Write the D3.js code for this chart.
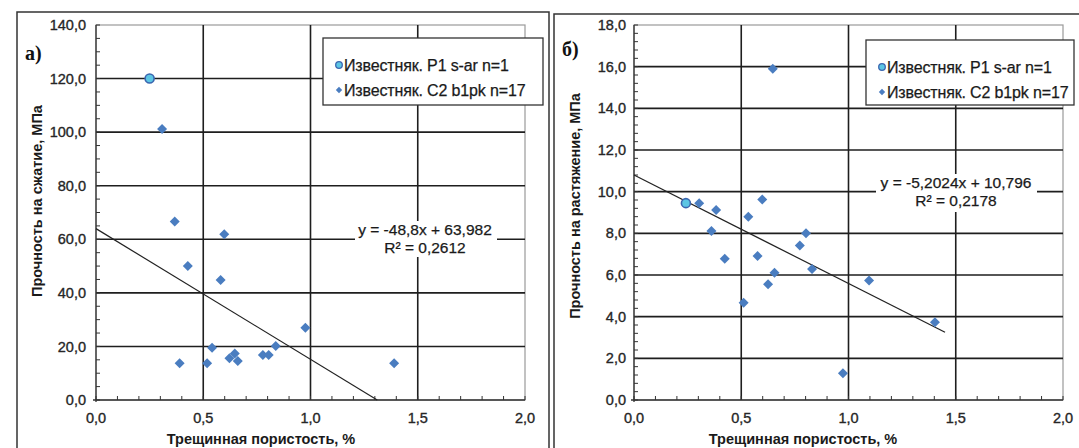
<!DOCTYPE html>
<meta charset="utf-8">
<style>
body { margin: 0; background: #fff; }
svg { display: block; }
.tick-label { font-family: "Liberation Sans", Arial, sans-serif; font-size: 14.5px; fill: #262626; stroke: #262626; stroke-width: 0.35px; }
.title { font-family: "Liberation Sans", Arial, sans-serif; font-size: 14.5px; font-weight: bold; fill: #1a1a1a; }
.legend-text { font-family: "Liberation Sans", Arial, sans-serif; font-size: 16px; letter-spacing: -0.15px; fill: #1a1a1a; stroke: #1a1a1a; stroke-width: 0.25px; }
.eq { font-family: "Liberation Sans", Arial, sans-serif; font-size: 15.5px; fill: #1a1a1a; stroke: #1a1a1a; stroke-width: 0.25px; }
</style>
<svg width="1079" height="448"></svg>
<script src="https://d3js.org/d3.v7.min.js"></script>
<script>

// --- data ---
var xTickValues = [0, 0.5, 1.0, 1.5, 2.0];

// panel a) compressive strength
var aTickValues = [0, 20, 40, 60, 80, 100, 120, 140];
var aCircleX = [0.25];
var aCircleY = [120.0];
var aDiamondX = [0.308, 0.367, 0.390, 0.428, 0.518, 0.541, 0.581, 0.598, 0.622, 0.647, 0.661, 0.778, 0.805, 0.838, 0.976, 1.39];
var aDiamondY = [101.2, 66.6, 13.7, 50.0, 13.7, 19.5, 44.8, 61.9, 15.6, 17.4, 14.6, 16.8, 16.8, 20.2, 27.0, 13.7];
var aSlope = -48.8, aIntercept = 63.982;
var aEq = ["y = -48,8x + 63,982", "R² = 0,2612"];

// panel б) tensile strength
var bTickValues = [0, 2, 4, 6, 8, 10, 12, 14, 16, 18];
var bCircleX = [0.242];
var bCircleY = [9.45];
var bDiamondX = [0.304, 0.361, 0.383, 0.423, 0.511, 0.533, 0.576, 0.598, 0.625, 0.647, 0.655, 0.773, 0.802, 0.830, 0.974, 1.096, 1.403];
var bDiamondY = [9.44, 8.11, 9.12, 6.78, 4.67, 8.8, 6.91, 9.62, 5.55, 15.9, 6.11, 7.41, 8.0, 6.29, 1.28, 5.73, 3.73];
var bSlope = -5.2024, bIntercept = 10.796;
var bEq = ["y = -5,2024x + 10,796", "R² = 0,2178"];

var legendNames = ["Известняк. P1 s-ar n=1", "Известняк. C2 b1pk n=17"];

var svg = d3.select("svg");
var fmt = function(d) { return d3.format(".1f")(d).replace(".", ","); };

// outer frames
svg.append("rect").attr("x", 17).attr("y", 12).attr("width", 532).attr("height", 450)
    .attr("fill", "none").attr("stroke", "#333").attr("stroke-width", 1.5);
svg.append("rect").attr("x", 554).attr("y", 14).attr("width", 540).attr("height", 450)
    .attr("fill", "none").attr("stroke", "#333").attr("stroke-width", 1.5);

function panel(p) {
  var x = d3.scaleLinear().domain([0, 2]).range([p.left, p.right]);
  var y = d3.scaleLinear().domain([0, p.yMax]).range([400, 25]);
  var g = svg.append("g");

  // plot area border (top/right gray)
  g.append("rect").attr("x", p.left).attr("y", 25).attr("width", p.right - p.left).attr("height", 375)
      .attr("fill", "none").attr("stroke", "#9a9a9a").attr("stroke-width", 1.2);

  // gridlines
  g.selectAll(".hg").data(p.yTicks.filter(function(d) { return d > 0 && d < p.yMax; }))
    .enter().append("line")
      .attr("x1", p.left).attr("x2", p.right)
      .attr("y1", function(d) { return y(d); }).attr("y2", function(d) { return y(d); })
      .attr("stroke", "#1e1e1e").attr("stroke-width", 1.6);
  g.selectAll(".vg").data(xTickValues.filter(function(d) { return d > 0 && d < 2; }))
    .enter().append("line")
      .attr("x1", function(d) { return x(d); }).attr("x2", function(d) { return x(d); })
      .attr("y1", 25).attr("y2", 400)
      .attr("stroke", "#1e1e1e").attr("stroke-width", 1.6);

  // minor ticks
  g.selectAll(".my").data(p.yMinor).enter().append("line")
      .attr("x1", p.left).attr("x2", p.left + 4)
      .attr("y1", function(d) { return y(d); }).attr("y2", function(d) { return y(d); })
      .attr("stroke", "#333");
  g.selectAll(".mx").data(d3.range(0, 2.001, 0.1)).enter().append("line")
      .attr("x1", function(d) { return x(d); }).attr("x2", function(d) { return x(d); })
      .attr("y1", 400).attr("y2", 396)
      .attr("stroke", "#333");

  // axes lines
  g.append("line").attr("x1", p.left).attr("x2", p.left).attr("y1", 25).attr("y2", 402)
      .attr("stroke", "#333").attr("stroke-width", 1.3);
  g.append("line").attr("x1", p.left - 3).attr("x2", p.right).attr("y1", 400).attr("y2", 400)
      .attr("stroke", "#333").attr("stroke-width", 1.3);

  // tick labels
  g.selectAll(".yl").data(p.yTicks).enter().append("text")
      .attr("class", "tick-label")
      .attr("x", p.left - p.labelGap).attr("y", function(d) { return y(d); })
      .attr("dy", "0.35em").attr("text-anchor", "end")
      .text(fmt);
  g.selectAll(".xl").data(xTickValues).enter().append("text")
      .attr("class", "tick-label")
      .attr("x", function(d) { return x(d); }).attr("y", 418)
      .attr("dy", "0.35em").attr("text-anchor", "middle")
      .text(fmt);

  // trend line
  g.append("line")
      .attr("x1", x(0)).attr("y1", y(p.intercept))
      .attr("x2", x(p.trendEnd)).attr("y2", y(p.intercept + p.slope * p.trendEnd))
      .attr("stroke", "#222").attr("stroke-width", 1.2);

  // equation label with white background
  g.append("rect").attr("x", p.eqBox[0]).attr("y", p.eqBox[1])
      .attr("width", p.eqBox[2]).attr("height", p.eqBox[3]).attr("fill", "#fff");
  g.selectAll(".eq").data(p.eq).enter().append("text")
      .attr("class", "eq").attr("text-anchor", "middle")
      .attr("x", p.eqX).attr("y", function(d, i) { return p.eqY + i * 18; })
      .text(function(d) { return d; });

  // points: diamonds as rotated squares
  var square = d3.symbol().type(d3.symbolSquare).size(50);
  g.selectAll(".dm").data(p.dX.map(function(v, i) { return [v, p.dY[i]]; }))
    .enter().append("path")
      .attr("d", square)
      .attr("transform", function(d) { return "translate(" + x(d[0]) + "," + y(d[1]) + ") rotate(45)"; })
      .attr("fill", "#4a7dc0");
  g.selectAll(".ci").data(p.cX.map(function(v, i) { return [v, p.cY[i]]; }))
    .enter().append("circle")
      .attr("cx", function(d) { return x(d[0]); }).attr("cy", function(d) { return y(d[1]); })
      .attr("r", 4.5)
      .attr("fill", "#5cc6e4").attr("stroke", "#3a66b0").attr("stroke-width", 1.6);

  // legend
  var lg = g.append("g");
  lg.append("rect").attr("x", p.legend[0]).attr("y", p.legend[1])
      .attr("width", p.legend[2]).attr("height", p.legend[3])
      .attr("fill", "#fff").attr("stroke", "#333").attr("stroke-width", 1.3);
  lg.append("circle").attr("cx", p.legend[0] + 16).attr("cy", p.legend[1] + 27).attr("r", 3.3)
      .attr("fill", "#5cc6e4").attr("stroke", "#3a66b0").attr("stroke-width", 1.3);
  lg.append("path").attr("d", d3.symbol().type(d3.symbolSquare).size(20))
      .attr("transform", "translate(" + (p.legend[0] + 16) + "," + (p.legend[1] + 52) + ") rotate(45)")
      .attr("fill", "#4a7dc0");
  lg.selectAll("text").data(legendNames).enter().append("text")
      .attr("class", "legend-text")
      .attr("x", p.legend[0] + 21).attr("y", function(d, i) { return p.legend[1] + 27 + i * 25; })
      .attr("dy", "0.35em")
      .text(function(d) { return d; });

  // axis titles
  svg.append("text").attr("class", "title").attr("text-anchor", "middle")
      .attr("x", p.xTitleX).attr("y", 444)
      .text("Трещинная пористость, %");
  svg.append("text").attr("class", "title").attr("text-anchor", "middle")
      .attr("transform", "translate(" + p.yTitleX + "," + p.yTitleY + ") rotate(-90)")
      .text(p.yTitle);

  // panel letter
  svg.append("text").attr("x", p.letter[0]).attr("y", p.letter[1])
      .attr("font-family", "Liberation Serif, serif").attr("font-weight", "bold").attr("font-size", 20)
      .attr("fill", "#111")
      .text(p.letterText);
}

panel({
  left: 96, right: 525, yMax: 140, yTicks: aTickValues, yMinor: d3.range(0, 140.1, 5),
  labelGap: 10, dX: aDiamondX, dY: aDiamondY, cX: aCircleX, cY: aCircleY,
  slope: aSlope, intercept: aIntercept, trendEnd: -aIntercept / aSlope,
  eq: aEq, eqX: 425, eqY: 235, eqBox: [355, 221, 142, 36],
  legend: [323, 38, 220, 67],
  yTitle: "Прочность на сжатие, МПа", yTitleX: 42, yTitleY: 201, xTitleX: 261,
  letter: [25, 60], letterText: "а)"
});

panel({
  left: 634, right: 1063, yMax: 18, yTicks: bTickValues, yMinor: d3.range(0, 18.01, 0.4),
  labelGap: 8, dX: bDiamondX, dY: bDiamondY, cX: bCircleX, cY: bCircleY,
  slope: bSlope, intercept: bIntercept, trendEnd: 1.45,
  eq: bEq, eqX: 956, eqY: 188, eqBox: [876, 174, 161, 38],
  legend: [866, 40, 208, 65],
  yTitle: "Прочность на растяжение, МПа", yTitleX: 580, yTitleY: 206, xTitleX: 803,
  letter: [562, 56], letterText: "б)"
});

</script>
